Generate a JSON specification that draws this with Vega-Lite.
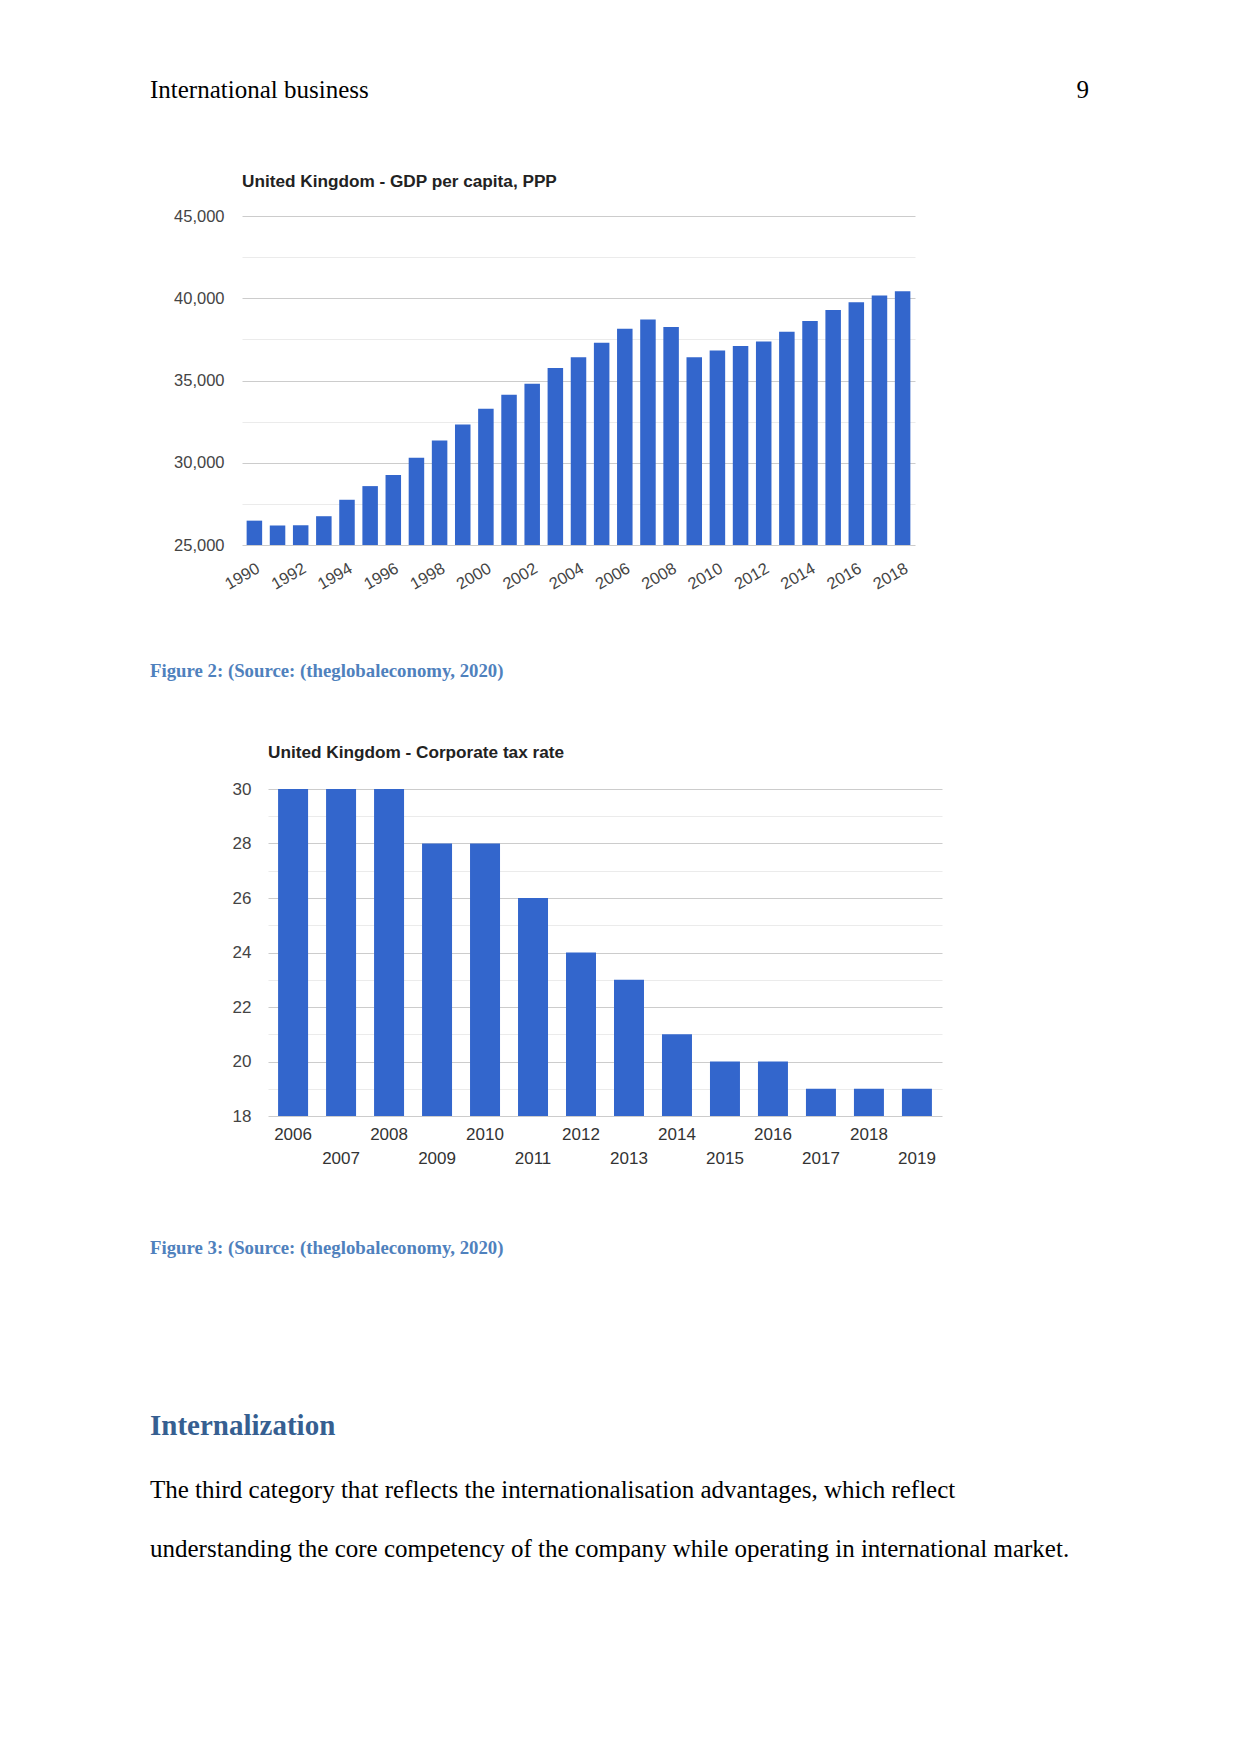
{
  "$schema": "https://vega.github.io/schema/vega-lite/v6.json",
  "background": "white",
  "padding": {"left": 150, "top": 70, "right": 152, "bottom": 185},
  "bounds": "flush",
  "spacing": 0,
  "config": {
    "view": {"stroke": null},
    "axis": {"labelFont": "Liberation Sans", "titleFont": "Liberation Sans"}
  },
  "datasets": {
    "gdp": [
      {"year": 1990, "gdp": 26480}, {"year": 1991, "gdp": 26180}, {"year": 1992, "gdp": 26200},
      {"year": 1993, "gdp": 26750}, {"year": 1994, "gdp": 27750}, {"year": 1995, "gdp": 28580},
      {"year": 1996, "gdp": 29250}, {"year": 1997, "gdp": 30310}, {"year": 1998, "gdp": 31350},
      {"year": 1999, "gdp": 32320}, {"year": 2000, "gdp": 33280}, {"year": 2001, "gdp": 34140},
      {"year": 2002, "gdp": 34810}, {"year": 2003, "gdp": 35760}, {"year": 2004, "gdp": 36410},
      {"year": 2005, "gdp": 37290}, {"year": 2006, "gdp": 38140}, {"year": 2007, "gdp": 38710},
      {"year": 2008, "gdp": 38250}, {"year": 2009, "gdp": 36410}, {"year": 2010, "gdp": 36820},
      {"year": 2011, "gdp": 37090}, {"year": 2012, "gdp": 37370}, {"year": 2013, "gdp": 37960},
      {"year": 2014, "gdp": 38610}, {"year": 2015, "gdp": 39280}, {"year": 2016, "gdp": 39750},
      {"year": 2017, "gdp": 40160}, {"year": 2018, "gdp": 40420}
    ],
    "tax": [
      {"year": 2006, "rate": 30}, {"year": 2007, "rate": 30}, {"year": 2008, "rate": 30},
      {"year": 2009, "rate": 28}, {"year": 2010, "rate": 28}, {"year": 2011, "rate": 26},
      {"year": 2012, "rate": 24}, {"year": 2013, "rate": 23}, {"year": 2014, "rate": 21},
      {"year": 2015, "rate": 20}, {"year": 2016, "rate": 20}, {"year": 2017, "rate": 19},
      {"year": 2018, "rate": 19}, {"year": 2019, "rate": 19}
    ]
  },
  "vconcat": [
    {
      "width": 939, "height": 40,
      "data": {"values": [{"label": "International business", "pos": "start"}, {"label": "9", "pos": "end"}]},
      "encoding": {
        "x": {"field": "pos", "type": "nominal", "scale": {"type": "point", "domain": ["start", "end"], "range": [0, 939], "padding": 0}, "axis": null},
        "text": {"field": "label", "type": "nominal"}
      },
      "layer": [
        {"transform": [{"filter": "datum.pos == 'start'"}], "mark": {"type": "text", "align": "left", "font": "Liberation Serif", "fontSize": 25, "color": "#000000"}},
        {"transform": [{"filter": "datum.pos == 'end'"}], "mark": {"type": "text", "align": "right", "font": "Liberation Serif", "fontSize": 25, "color": "#000000"}}
      ]
    },
    {"width": 939, "height": 106, "data": {"values": []}, "mark": "point"},
    {
      "width": 765, "height": 329,
      "title": {"text": "United Kingdom - GDP per capita, PPP", "anchor": "start", "dx": 92, "offset": 18, "font": "Liberation Sans", "fontSize": 17.2, "fontWeight": "bold", "color": "#222222"},
      "data": {"name": "gdp"},
      "mark": {"type": "bar", "color": "#3366CC"},
      "encoding": {
        "x": {
          "field": "year", "type": "ordinal",
          "scale": {"range": [92, 765], "paddingInner": 0.33, "paddingOuter": 0.2},
          "axis": {"title": null, "values": [1990, 1992, 1994, 1996, 1998, 2000, 2002, 2004, 2006, 2008, 2010, 2012, 2014, 2016, 2018],
            "labelAngle": -30, "labelAlign": "right", "labelBaseline": "top", "labelPadding": 15,
            "labelFontSize": 16.5, "labelColor": "#444444", "ticks": false, "domain": false, "grid": false, "labelOverlap": false}
        },
        "y": {
          "field": "gdp", "type": "quantitative",
          "scale": {"domain": [25000, 45000], "nice": false, "zero": false},
          "axis": {"title": null, "values": [25000, 27500, 30000, 32500, 35000, 37500, 40000, 42500, 45000],
            "labelExpr": "datum.value % 5000 == 0 ? format(datum.value, ',') : ''",
            "offset": -92, "labelPadding": 18, "labelFontSize": 16.5, "labelColor": "#444444",
            "ticks": false, "domain": false, "grid": true,
            "gridColor": {"condition": {"test": "datum.value % 5000 != 0", "value": "#ebebeb"}, "value": "#cccccc"}}
        },
        "y2": {"datum": 25000}
      }
    },
    {"width": 939, "height": 106, "data": {"values": []}, "mark": "point"},
    {
      "width": 939, "height": 40,
      "data": {"values": [{"label": "Figure 2: (Source: (theglobaleconomy, 2020)", "pos": "start"}]},
      "mark": {"type": "text", "align": "left", "font": "Liberation Serif", "fontSize": 18.8, "fontWeight": "bold", "color": "#4F81BD"},
      "encoding": {
        "x": {"field": "pos", "type": "nominal", "scale": {"type": "point", "domain": ["start", "end"], "range": [0, 939], "padding": 0}, "axis": null},
        "text": {"field": "label", "type": "nominal"}
      }
    },
    {"width": 939, "height": 98, "data": {"values": []}, "mark": "point"},
    {
      "width": 792, "height": 327,
      "title": {"text": "United Kingdom - Corporate tax rate", "anchor": "start", "dx": 118, "offset": 19, "font": "Liberation Sans", "fontSize": 17.2, "fontWeight": "bold", "color": "#222222"},
      "data": {"name": "tax"},
      "mark": {"type": "bar", "color": "#3366CC"},
      "encoding": {
        "x": {
          "field": "year", "type": "ordinal",
          "scale": {"range": [118, 792], "paddingInner": 0.375, "paddingOuter": 0.21},
          "axis": {"title": null, "labelExpr": "datum.value % 2 == 1 ? ['', datum.label] : datum.label",
            "labelAngle": 0, "labelAlign": "center", "labelBaseline": "top", "labelPadding": 10, "labelLineHeight": 24.5,
            "labelFontSize": 17, "labelColor": "#333333", "ticks": false, "domain": false, "grid": false, "labelOverlap": false}
        },
        "y": {
          "field": "rate", "type": "quantitative",
          "scale": {"domain": [18, 30], "nice": false, "zero": false},
          "axis": {"title": null, "values": [18, 19, 20, 21, 22, 23, 24, 25, 26, 27, 28, 29, 30],
            "labelExpr": "datum.value % 2 == 0 ? datum.label : ''",
            "offset": -118, "labelPadding": 17, "labelFontSize": 17, "labelColor": "#444444",
            "ticks": false, "domain": false, "grid": true,
            "gridColor": {"condition": {"test": "datum.value % 2 != 0", "value": "#ebebeb"}, "value": "#cccccc"}}
        },
        "y2": {"datum": 18}
      }
    },
    {"width": 939, "height": 112, "data": {"values": []}, "mark": "point"},
    {
      "width": 939, "height": 40,
      "data": {"values": [{"label": "Figure 3: (Source: (theglobaleconomy, 2020)", "pos": "start"}]},
      "mark": {"type": "text", "align": "left", "font": "Liberation Serif", "fontSize": 18.8, "fontWeight": "bold", "color": "#4F81BD"},
      "encoding": {
        "x": {"field": "pos", "type": "nominal", "scale": {"type": "point", "domain": ["start", "end"], "range": [0, 939], "padding": 0}, "axis": null},
        "text": {"field": "label", "type": "nominal"}
      }
    },
    {"width": 939, "height": 138, "data": {"values": []}, "mark": "point"},
    {
      "width": 939, "height": 40,
      "data": {"values": [{"label": "Internalization", "pos": "start"}]},
      "mark": {"type": "text", "align": "left", "font": "Liberation Serif", "fontSize": 29, "fontWeight": "bold", "color": "#365F91"},
      "encoding": {
        "x": {"field": "pos", "type": "nominal", "scale": {"type": "point", "domain": ["start", "end"], "range": [0, 939], "padding": 0}, "axis": null},
        "text": {"field": "label", "type": "nominal"}
      }
    },
    {"width": 939, "height": 24, "data": {"values": []}, "mark": "point"},
    {
      "width": 939, "height": 40,
      "data": {"values": [{"label": "The third category that reflects the internationalisation advantages, which reflect", "pos": "start"}]},
      "mark": {"type": "text", "align": "left", "font": "Liberation Serif", "fontSize": 25, "color": "#000000"},
      "encoding": {
        "x": {"field": "pos", "type": "nominal", "scale": {"type": "point", "domain": ["start", "end"], "range": [0, 939], "padding": 0}, "axis": null},
        "text": {"field": "label", "type": "nominal"}
      }
    },
    {"width": 939, "height": 19, "data": {"values": []}, "mark": "point"},
    {
      "width": 939, "height": 40,
      "data": {"values": [{"label": "understanding the core competency of the company while operating in international market.", "pos": "start"}]},
      "mark": {"type": "text", "align": "left", "font": "Liberation Serif", "fontSize": 25, "color": "#000000"},
      "encoding": {
        "x": {"field": "pos", "type": "nominal", "scale": {"type": "point", "domain": ["start", "end"], "range": [0, 939], "padding": 0}, "axis": null},
        "text": {"field": "label", "type": "nominal"}
      }
    }
  ]
}
